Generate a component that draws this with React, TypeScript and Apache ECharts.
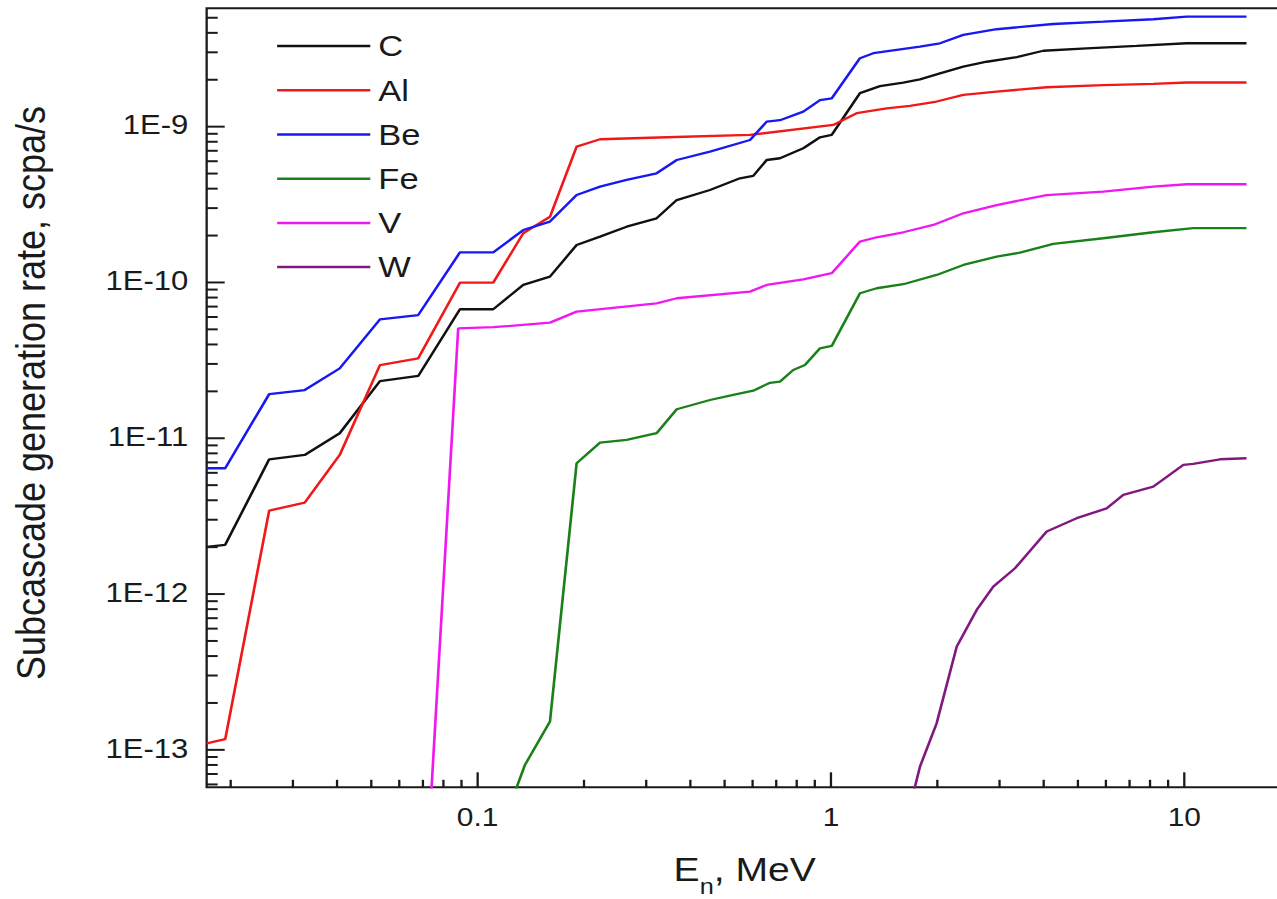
import React, { useEffect, useRef } from 'react';
import * as echarts from 'echarts';

const FONT = '"Liberation Sans", Arial, Helvetica, sans-serif';
const INK = '#1a1a1a';

// The figure is laid out on a narrower canvas and widened horizontally,
// which gives its lettering the broad proportions of the plot.
const STRETCH = 1.15;

// Axis ranges: neutron energy (MeV) and subcascade generation rate (scpa/s)
const X_MIN = 0.0171;
const X_MAX = 20;
const Y_MIN = 5.75e-14;
const Y_MAX = 5.75e-9;

const xMajorTicks = [0.1, 1, 10];
const xTickLabels = ['0.1', '1', '10'];
const yMajorTicks = [1e-13, 1e-12, 1e-11, 1e-10, 1e-9];
const yTickLabels = ['1E-13', '1E-12', '1E-11', '1E-10', '1E-9'];
const minorSteps = [2, 3, 4, 5, 6, 7, 8, 9];
const xDecades = [0.01, 0.1, 1, 10];
const yDecades = [1e-14, 1e-13, 1e-12, 1e-11, 1e-10, 1e-9];

// C
const cEnergy = [0.0171, 0.0193, 0.0257, 0.0324, 0.0407, 0.0529, 0.0679, 0.0891, 0.1107, 0.1346, 0.1602, 0.1906, 0.222, 0.264, 0.321, 0.366, 0.4545, 0.5526, 0.6026, 0.6577, 0.7173, 0.835, 0.931, 1.005, 1.208, 1.376, 1.602, 1.786, 2.035, 2.369, 2.759, 3.355, 3.99, 5.291, 7.333, 10.16, 15.0];
const cRate = [2.01e-12, 2.07e-12, 7.33e-12, 7.81e-12, 1.077e-11, 2.33e-11, 2.51e-11, 6.73e-11, 6.73e-11, 9.64e-11, 1.089e-10, 1.74e-10, 1.97e-10, 2.28e-10, 2.58e-10, 3.38e-10, 3.92e-10, 4.66e-10, 4.83e-10, 6.11e-10, 6.27e-10, 7.27e-10, 8.55e-10, 8.85e-10, 1.64e-9, 1.82e-9, 1.92e-9, 2.01e-9, 2.2e-9, 2.43e-9, 2.61e-9, 2.79e-9, 3.07e-9, 3.18e-9, 3.3e-9, 3.43e-9, 3.43e-9];

// Al
const alEnergy = [0.0171, 0.0193, 0.0257, 0.0324, 0.0407, 0.0529, 0.0679, 0.0891, 0.1107, 0.1346, 0.1602, 0.1906, 0.222, 0.343, 0.59, 1.015, 1.182, 1.438, 1.673, 1.991, 2.369, 2.944, 4.079, 5.898, 8.171, 10.16, 15.0];
const alRate = [1.1e-13, 1.17e-13, 3.43e-12, 3.86e-12, 7.81e-12, 2.95e-11, 3.26e-11, 9.97e-11, 9.97e-11, 2.07e-10, 2.64e-10, 7.44e-10, 8.3e-10, 8.55e-10, 8.85e-10, 1.025e-9, 1.22e-9, 1.31e-9, 1.36e-9, 1.45e-9, 1.6e-9, 1.68e-9, 1.79e-9, 1.85e-9, 1.88e-9, 1.92e-9, 1.92e-9];

// Be
const beEnergy = [0.0171, 0.0193, 0.0257, 0.0324, 0.0407, 0.0529, 0.0679, 0.0891, 0.1107, 0.1346, 0.1602, 0.1906, 0.222, 0.264, 0.321, 0.366, 0.4545, 0.59, 0.6577, 0.7173, 0.835, 0.931, 1.005, 1.208, 1.318, 1.535, 1.786, 2.035, 2.369, 2.944, 4.257, 5.898, 8.171, 10.16, 15.0];
const beRate = [6.42e-12, 6.42e-12, 1.92e-11, 2.04e-11, 2.81e-11, 5.8e-11, 6.18e-11, 1.56e-10, 1.56e-10, 2.17e-10, 2.46e-10, 3.64e-10, 4.12e-10, 4.55e-10, 5.02e-10, 6.11e-10, 6.91e-10, 8.21e-10, 1.077e-9, 1.1e-9, 1.248e-9, 1.48e-9, 1.52e-9, 2.75e-9, 2.96e-9, 3.11e-9, 3.26e-9, 3.43e-9, 3.88e-9, 4.22e-9, 4.56e-9, 4.72e-9, 4.89e-9, 5.08e-9, 5.08e-9];

// Fe
const feEnergy = [0.12, 0.1361, 0.1602, 0.1906, 0.222, 0.264, 0.321, 0.366, 0.4545, 0.529, 0.6026, 0.672, 0.7173, 0.782, 0.844, 0.931, 1.005, 1.208, 1.347, 1.602, 1.991, 2.369, 2.944, 3.428, 4.257, 5.898, 8.171, 10.6, 15.0];
const feRate = [3.7e-14, 8.0e-14, 1.52e-13, 6.91e-12, 9.37e-12, 9.75e-12, 1.077e-11, 1.535e-11, 1.76e-11, 1.9e-11, 2.02e-11, 2.27e-11, 2.31e-11, 2.74e-11, 2.95e-11, 3.78e-11, 3.91e-11, 8.53e-11, 9.18e-11, 9.74e-11, 1.117e-10, 1.295e-10, 1.464e-10, 1.553e-10, 1.767e-10, 1.922e-10, 2.1e-10, 2.23e-10, 2.23e-10];

// V
const vEnergy = [0.072, 0.0881, 0.1107, 0.1602, 0.1906, 0.321, 0.366, 0.59, 0.6577, 0.835, 1.005, 1.208, 1.347, 1.602, 1.948, 2.369, 2.944, 4.079, 5.898, 8.171, 10.16, 15.0];
const vRate = [1.9e-14, 5.08e-11, 5.16e-11, 5.52e-11, 6.5e-11, 7.35e-11, 7.92e-11, 8.73e-11, 9.64e-11, 1.048e-10, 1.146e-10, 1.83e-10, 1.95e-10, 2.1e-10, 2.34e-10, 2.78e-10, 3.14e-10, 3.64e-10, 3.83e-10, 4.12e-10, 4.27e-10, 4.27e-10];

// W
const wEnergy = [1.65, 1.786, 1.991, 2.27, 2.585, 2.88, 3.318, 4.079, 4.96, 6.03, 6.72, 8.171, 9.94, 10.6, 12.62, 15.0];
const wRate = [3.8e-14, 7.8e-14, 1.48e-13, 4.6e-13, 7.91e-13, 1.115e-12, 1.464e-12, 2.52e-12, 3.07e-12, 3.55e-12, 4.33e-12, 4.89e-12, 6.74e-12, 6.84e-12, 7.33e-12, 7.44e-12];

const seriesNames = ['C', 'Al', 'Be', 'Fe', 'V', 'W'];
const seriesColors = ['#111111', '#f01818', '#1818f0', '#1a801a', '#f018f0', '#801880'];
const seriesEnergy = [cEnergy, alEnergy, beEnergy, feEnergy, vEnergy, wEnergy];
const seriesRate = [cRate, alRate, beRate, feRate, vRate, wRate];

function buildOption() {
  const lineSeries = seriesNames.map((name, k) => ({
    name,
    type: 'line',
    data: seriesEnergy[k].map((e, i) => [e, seriesRate[k][i]]),
    symbol: 'none',
    showSymbol: false,
    clip: true,
    lineStyle: { color: seriesColors[k], width: 2.3 },
    itemStyle: { color: seriesColors[k] },
    z: 3,
  }));

  // tick items: [value, anchor, labelIndex or -1]
  const xTickData: number[][] = [];
  xDecades.forEach((d) => minorSteps.forEach((m) => {
    const v = d * m;
    if (v > X_MIN && v < X_MAX) xTickData.push([v, Y_MIN, -1]);
  }));
  xMajorTicks.forEach((v, i) => xTickData.push([v, Y_MIN, i]));

  const yTickData: number[][] = [];
  yDecades.forEach((d) => minorSteps.forEach((m) => {
    const v = d * m;
    if (v > Y_MIN && v < Y_MAX) yTickData.push([X_MIN, v, -1]);
  }));
  yMajorTicks.forEach((v, i) => yTickData.push([X_MIN, v, i]));

  const xTicks = {
    type: 'custom',
    silent: true,
    clip: false,
    z: 10,
    data: xTickData,
    renderItem: (_params: any, api: any) => {
      const idx = api.value(2);
      const p = api.coord([api.value(0), api.value(1)]);
      const major = idx >= 0;
      const len = major ? 15 : 7.5;
      const children: any[] = [
        {
          type: 'line',
          shape: { x1: p[0], y1: p[1], x2: p[0], y2: p[1] - len },
          style: { stroke: INK, lineWidth: 2 },
        },
      ];
      if (major) {
        children.push({
          type: 'text',
          x: p[0],
          y: p[1] + 30,
          style: {
            text: xTickLabels[idx],
            fontSize: 26,
            fontFamily: FONT,
            fill: INK,
            align: 'center',
            verticalAlign: 'middle',
          },
        });
      }
      return { type: 'group', children };
    },
  };

  const yTicks = {
    type: 'custom',
    silent: true,
    clip: false,
    z: 10,
    data: yTickData,
    renderItem: (_params: any, api: any) => {
      const idx = api.value(2);
      const p = api.coord([api.value(0), api.value(1)]);
      const major = idx >= 0;
      const len = major ? 15.7 : 9.6;
      const children: any[] = [
        {
          type: 'line',
          shape: { x1: p[0], y1: p[1], x2: p[0] + len, y2: p[1] },
          style: { stroke: INK, lineWidth: 2 },
        },
      ];
      if (major) {
        children.push({
          type: 'text',
          x: p[0] - 16,
          y: p[1] - 1.5,
          style: {
            text: yTickLabels[idx],
            fontSize: 27,
            fontFamily: FONT,
            fill: INK,
            align: 'right',
            verticalAlign: 'middle',
          },
        });
      }
      return { type: 'group', children };
    },
  };

  const hiddenAxis = {
    axisLine: { show: false },
    axisTick: { show: false },
    axisLabel: { show: false },
    splitLine: { show: false },
    minorTick: { show: false },
    minorSplitLine: { show: false },
  };

  return {
    animation: false,
    backgroundColor: '#ffffff',
    grid: {
      left: 179.7,
      top: 8.3,
      width: 942.6,
      height: 779,
      show: true,
      borderColor: INK,
      borderWidth: 2,
      backgroundColor: 'transparent',
    },
    xAxis: { type: 'log', logBase: 10, min: X_MIN, max: X_MAX, ...hiddenAxis },
    yAxis: { type: 'log', logBase: 10, min: Y_MIN, max: Y_MAX, ...hiddenAxis },
    legend: {
      data: seriesNames,
      orient: 'vertical',
      left: 241,
      top: 24,
      padding: 0,
      itemGap: 0,
      itemWidth: 81,
      itemHeight: 2.5,
      icon: 'rect',
      selectedMode: false,
      textStyle: {
        fontSize: 30,
        fontFamily: FONT,
        color: INK,
        lineHeight: 44.2,
        padding: [0, 0, 0, 2],
      },
    },
    graphic: [
      {
        type: 'text',
        x: 27,
        y: 393,
        rotation: Math.PI / 2,
        silent: true,
        style: {
          text: 'Subcascade generation rate, scpa/s',
          fontSize: 36,
          fontFamily: FONT,
          fill: INK,
          align: 'center',
          verticalAlign: 'middle',
        },
      },
      {
        type: 'text',
        x: 585.7,
        y: 869.5,
        silent: true,
        style: { text: 'E', fontSize: 34, fontFamily: FONT, fill: INK, align: 'left', verticalAlign: 'middle' },
      },
      {
        type: 'text',
        x: 608.4,
        y: 886.5,
        silent: true,
        style: { text: 'n', fontSize: 22, fontFamily: FONT, fill: INK, align: 'left', verticalAlign: 'middle' },
      },
      {
        type: 'text',
        x: 620.6,
        y: 869.5,
        silent: true,
        style: { text: ', MeV', fontSize: 34, fontFamily: FONT, fill: INK, align: 'left', verticalAlign: 'middle' },
      },
    ],
    series: [...lineSeries, xTicks, yTicks],
  };
}

export default function App() {
  const ref = useRef<HTMLDivElement>(null);

  useEffect(() => {
    if (!ref.current) return;
    const chart = echarts.init(ref.current, null, { renderer: 'svg' });
    chart.setOption(buildOption() as any);
    return () => {
      chart.dispose();
    };
  }, []);

  return (
    <div
      style={{
        position: 'fixed',
        left: 0,
        top: 0,
        width: 1277,
        height: 899,
        overflow: 'hidden',
        background: '#ffffff',
      }}
    >
      <div
        ref={ref}
        style={{
          width: 1130,
          height: 899,
          transform: `scaleX(${STRETCH})`,
          transformOrigin: '0 0',
        }}
      />
    </div>
  );
}
